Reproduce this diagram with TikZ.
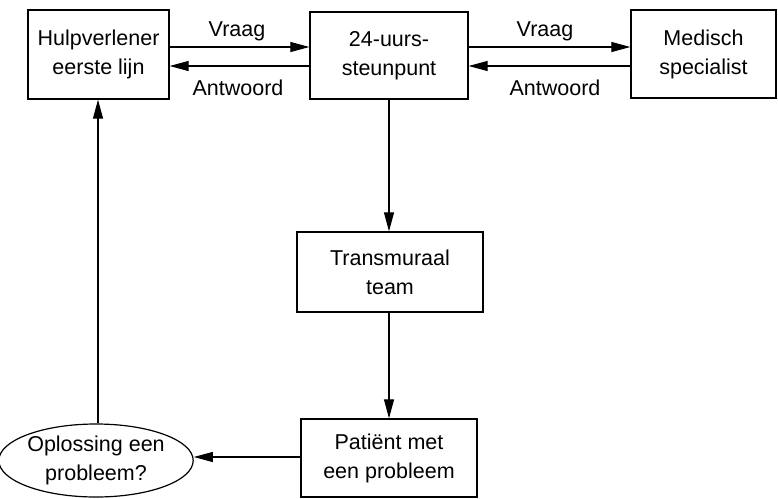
\documentclass[tikz,border=0pt]{standalone}
\usepackage{fontspec}
\setmainfont{Liberation Sans}
\usetikzlibrary{arrows.meta,shapes.geometric}
\begin{document}
\begin{tikzpicture}[x=1pt,y=-1pt,
  box/.style={draw,line width=1.3pt,inner sep=0pt,align=center,font=\fontsize{21.5}{29}\selectfont},
  oval/.style={draw,ellipse,line width=1.2pt,inner sep=0pt,align=center,font=\fontsize{21.5}{29}\selectfont},
  lbl/.style={font=\fontsize{21.5}{26}\selectfont,inner sep=0pt},
  arr/.style={line width=1.1pt,-{Triangle[length=19pt,width=10pt]}}]
\useasboundingbox (0,0) rectangle (778,498);
\node[box,minimum width=141pt,minimum height=89pt] (hulp) at (98.5,54.5) {Hulpverlener\\eerste lijn};
\node[box,minimum width=158pt,minimum height=87pt] (steun) at (389,55.5) {24-uurs-\\steunpunt};
\node[box,minimum width=145pt,minimum height=88pt] (med) at (703.5,54) {Medisch\\specialist};
\node[box,minimum width=186pt,minimum height=80pt] (trans) at (390,272) {Transmuraal\\team};
\node[box,minimum width=176pt,minimum height=78pt] (pat) at (389,458) {Patiënt met\\een probleem};
\node[oval,minimum width=175pt,minimum height=73pt] (ell) at (96,460.5) {Oplossing een\\probleem?};
\coordinate (vq) at (0,47);
\coordinate (aw) at (0,66);
\coordinate (pm) at (0,457);
\draw[arr] (hulp.east |- vq) -- (steun.west |- vq);
\draw[arr] (steun.west |- aw) -- (hulp.east |- aw);
\draw[arr] (steun.east |- vq) -- (med.west |- vq);
\draw[arr] (med.west |- aw) -- (steun.east |- aw);
\node[lbl] (v1) at (237,31) {Vraag};
\node[lbl] (a1) at (238,88) {Antwoord};
\node[lbl] (v2) at (545,31) {Vraag};
\node[lbl] (a2) at (555,88) {Antwoord};
\draw[arr] (steun.south) -- (steun.south |- trans.north);
\draw[arr] (trans.south -| pat.north) -- (pat.north);
\draw[arr] (pat.west |- pm) -- (ell.east |- pm);
\draw[arr] ([xshift=2pt]ell.north) -- ([xshift=2pt]ell.north |- hulp.south);
\end{tikzpicture}
\end{document}
